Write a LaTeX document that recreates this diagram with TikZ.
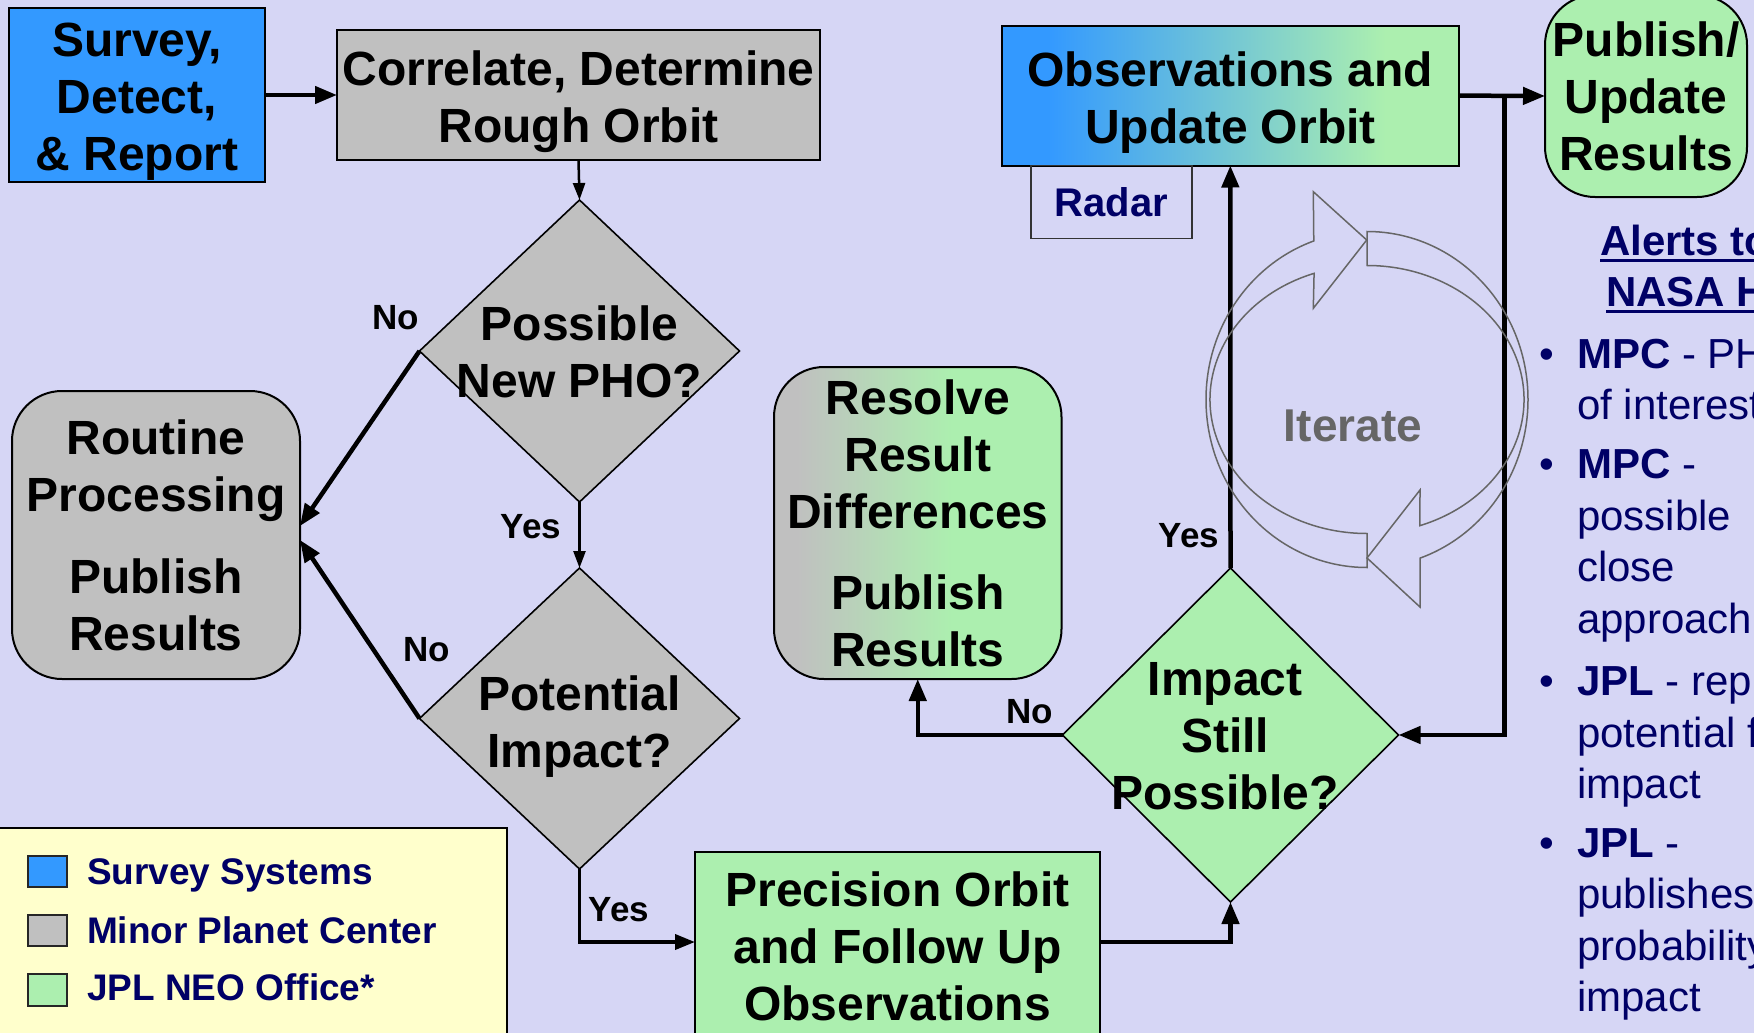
\documentclass[tikz,border=0pt]{standalone}
\usepackage{fontspec}
\setmainfont{Liberation Sans}
\usetikzlibrary{shapes.geometric,arrows.meta,calc}

\definecolor{bgl}{RGB}{214,214,245}
\definecolor{sblue}{RGB}{51,153,255}
\definecolor{mgray}{RGB}{192,192,192}
\definecolor{jgreen}{RGB}{172,239,175}
\definecolor{lyellow}{RGB}{255,255,204}
\definecolor{navy}{RGB}{0,0,102}
\definecolor{itgray}{RGB}{102,102,102}

\pgfdeclarehorizontalshading{obsshade}{100bp}{color(0bp)=(sblue); color(30bp)=(sblue); color(67bp)=(jgreen); color(100bp)=(jgreen)}
\pgfdeclarehorizontalshading{resshade}{100bp}{color(0bp)=(mgray); color(29bp)=(mgray); color(56bp)=(jgreen); color(100bp)=(jgreen)}

\begin{document}
\begin{tikzpicture}[x=1pt,y=-1pt,
  every node/.style={inner sep=0pt, outer sep=0pt},
  mainfont/.style={font=\bfseries\fontsize{48}{57}\selectfont},
  box/.style={draw=black, line width=2pt, align=center, mainfont},
  dia/.style={draw=black, shape=diamond, line width=1.6pt},
  dtext/.style={align=center, mainfont},
  lab/.style={font=\bfseries\fontsize{35}{40}\selectfont},
  conn/.style={line width=4.5pt, -{Triangle[length=22pt,width=17pt]}},
  midconn/.style={line width=3.8pt, -{Triangle[length=20pt,width=15pt]}},
  thinconn/.style={line width=2.5pt, -{Triangle[length=17pt,width=12pt]}},
  iter/.style={draw=itgray, line width=1.5pt, line join=miter},
  alert/.style={anchor=base west, text=navy, font=\mdseries\fontsize{42}{51}\selectfont},
  bul/.style={anchor=base, text=navy, font=\mdseries\fontsize{42}{51}\selectfont},
  legtext/.style={anchor=base west, text=navy, font=\bfseries\fontsize{37}{44}\selectfont},
  legsq/.style={draw=black!85, line width=2pt}
]
\fill[bgl] (0,0) rectangle (1754,1033);
\useasboundingbox (0,0) rectangle (1754,1033);
\clip (0,0) rectangle (1754,1033);

% boxes
\node[box, fill=sblue, minimum width=256pt, minimum height=174pt] (survey) at (137,95) {};
\node[dtext] (surveyt) at (137,102) {Survey,\\Detect,\\\& Report};
\node[box, fill=mgray, minimum width=483pt, minimum height=130pt] (correlate) at (578.5,95) {};
\node[dtext] (correlatet) at (578.5,102) {Correlate, Determine\\Rough Orbit};
\node[dia, fill=mgray, minimum width=320pt, minimum height=302pt] (pho) at (579.5,351) {};
\node[dtext] (phot) at (579.5,352) {Possible\\New PHO?};
\node[dia, fill=mgray, minimum width=320pt, minimum height=301pt] (pot) at (579.5,718.5) {};
\node[dtext] (pott) at (579.5,726.5) {Potential\\Impact?};
\node[box, fill=mgray, rounded corners=50pt, minimum width=288pt, minimum height=288pt] (routine) at (156,535) {Routine\\Processing\\[25pt]Publish\\Results};
\node[box, shading=resshade, rounded corners=50pt, minimum width=287.5pt, minimum height=312pt] (resolve) at (917.75,523) {Resolve\\Result\\Differences\\[24pt]Publish\\Results};
\node[dia, fill=jgreen, minimum width=336pt, minimum height=334pt] (still) at (1230.5,735) {};
\node[dtext] (stillt) at (1225,736) {Impact\\Still\\Possible?};
\node[box, fill=jgreen, minimum width=405pt, minimum height=188pt] (prec) at (897.5,946) {Precision Orbit\\and Follow Up\\Observations};
\node[box, shading=obsshade, minimum width=456.7pt, minimum height=139.8pt] (obs) at (1230.35,95.6) {};
\node[dtext] (obst) at (1230.35,102.5) {Observations and\\Update Orbit};
\node[draw=black!80, line width=1.3pt, minimum width=161pt, minimum height=72.5pt, text=navy, font=\bfseries\fontsize{40}{48}\selectfont] (radar) at (1111.5,202) {Radar};
\node[box, fill=jgreen, rounded corners=50pt, minimum width=202pt, minimum height=202pt] (pub) at (1646,96) {Publish/\\Update\\Results};

% connectors
\draw[conn] (survey.east) -- (correlate.west);
\draw[thinconn] (correlate.south) -- (pho.north);
\draw[conn] (pho.west) -- ($(routine.east)+(0,-9)$);
\draw[thinconn] (pho.south) -- (pot.north);
\draw[conn] (pot.west) -- ($(routine.east)+(0,5)$);
\draw[midconn] (pot.south) |- ([yshift=4pt]prec.west);
\draw[conn] ([yshift=4pt]prec.east) -| (still.south);
\draw[conn] (still.west) -| (resolve.south);
\draw[conn] (still.north) -- (obs.south);
\draw[conn] (obs.east) -- (pub.west);
\coordinate (j) at (1504.5,95.6);
\draw[conn] (j) |- (still.east);

% labels
\node[lab] (no1) at (396,318) {No};
\node[lab] (no2) at (427,650) {No};
\node[lab] (yes1) at (531,527) {Yes};
\node[lab] (yes2) at (619,910) {Yes};
\node[lab] (no3) at (1030,711.5) {No};
\node[lab] (yes3) at (1189,536) {Yes};

% iterate symbol
\coordinate (ic) at (1367,399.5);
\draw[iter] ($(ic)+(-90:161 and 168)$) arc[start angle=-90, end angle=70.7, x radius=161, y radius=168]
  -- (1420,607) -- (1367,558) -- (1420,490)
  -- ($(ic)+(70.3:157 and 134)$) arc[start angle=70.3, end angle=-90, x radius=157, y radius=134] -- cycle;
\draw[iter] ($(ic)+(90:161 and 168)$) arc[start angle=90, end angle=250.7, x radius=161, y radius=168]
  -- (1313.3,191.7) -- (1366.7,240) -- (1313.3,308.3)
  -- ($(ic)+(250.3:157 and 134)$) arc[start angle=250.3, end angle=90, x radius=157, y radius=134] -- cycle;
\node[font=\bfseries\fontsize{46}{50}\selectfont, text=itgray] (iterate) at (1353,425.5) {Iterate};

% alerts column
\node[alert, font=\bfseries\fontsize{42}{51}\selectfont] (al1) at (1600,255) {Alerts to};
\node[alert, font=\bfseries\fontsize{42}{51}\selectfont] (al2) at (1606,306.5) {NASA H};
\draw[navy, line width=3pt] ([yshift=-5pt]al1.base west) -- ([yshift=-5pt]al1.base east);
\draw[navy, line width=3pt] ([yshift=-5pt]al2.base west) -- ([yshift=-5pt]al2.base east);

\node[bul] (b1) at (1547,368) {•};
\node[bul] (b2) at (1547,478.8) {•};
\node[bul] (b3) at (1547,695.8) {•};
\node[bul] (b4) at (1547,857) {•};

\node[alert] (t1) at (1577,368) {\textbf{MPC} - PH};
\node[alert] (t2) at (1577,419.5) {of interest};
\node[alert] (t3) at (1577,478.8) {\textbf{MPC} -};
\node[alert] (t4) at (1577,530) {possible};
\node[alert] (t5) at (1577,581.5) {close};
\node[alert] (t6) at (1577,633) {approach};
\node[alert] (t7) at (1577,695.8) {\textbf{JPL} - rep};
\node[alert] (t8) at (1577,747) {potential f};
\node[alert] (t9) at (1577,798.5) {impact};
\node[alert] (t10) at (1577,857) {\textbf{JPL} -};
\node[alert] (t11) at (1577,908.5) {publishes};
\node[alert] (t12) at (1577,960) {probability};
\node[alert] (t13) at (1577,1011) {impact};

% legend
\node[draw=black, line width=2.5pt, fill=lyellow, minimum width=510pt, minimum height=212pt] (legend) at (252,934) {};
\node[legsq, fill=sblue, minimum width=39pt, minimum height=31pt] (sq1) at (47.5,871.5) {};
\node[legsq, fill=mgray, minimum width=39pt, minimum height=31pt] (sq2) at (47.5,930.5) {};
\node[legsq, fill=jgreen, minimum width=39pt, minimum height=32pt] (sq3) at (47.5,989.5) {};
\node[legtext] (lt1) at (87,884.5) {Survey Systems};
\node[legtext] (lt2) at (87,943) {Minor Planet Center};
\node[legtext] (lt3) at (87,1000) {JPL NEO Office*};
\end{tikzpicture}
\end{document}
